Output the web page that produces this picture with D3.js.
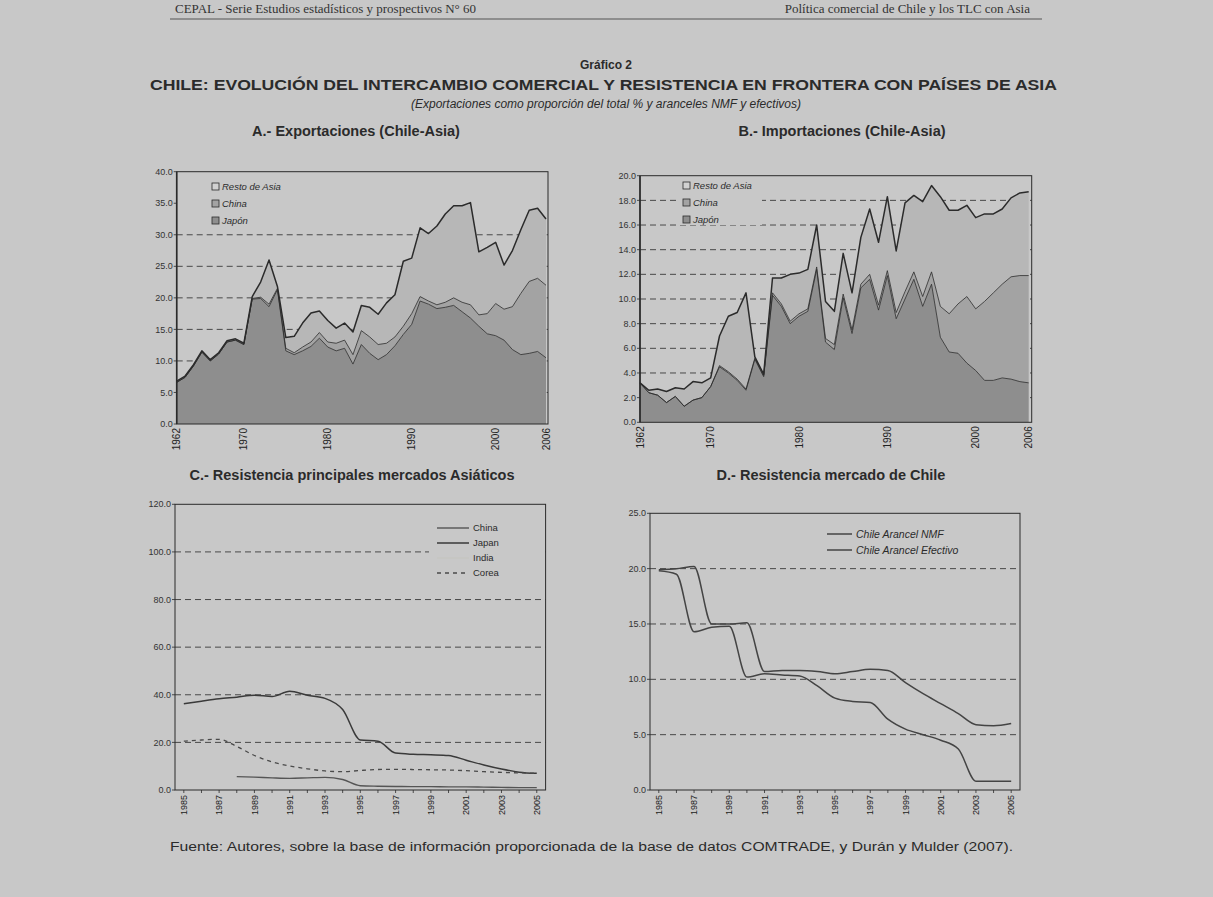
<!DOCTYPE html>
<html><head><meta charset="utf-8">
<script src="https://cdn.jsdelivr.net/npm/d3@7"></script>
<style>
html,body{margin:0;padding:0;background:#c8c8c8;}
svg{display:block;font-family:"Liberation Sans",Arial,sans-serif;}
</style>
</head><body>
<svg id="c" width="1213" height="897"></svg>
<script>
// ---------------- DATA ----------------
const yearsAB = [1962,1963,1964,1965,1966,1967,1968,1969,1970,1971,1972,1973,1974,1975,1976,1977,1978,1979,1980,1981,1982,1983,1984,1985,1986,1987,1988,1989,1990,1991,1992,1993,1994,1995,1996,1997,1998,1999,2000,2001,2002,2003,2004,2005,2006];
const tickYearsAB = [1962,1970,1980,1990,2000,2006];

// A.- Exportaciones (% del total)
const expJapon = [6.6,7.4,9.2,11.4,10.0,11.1,13.0,13.3,12.6,19.8,19.9,18.6,21.3,11.6,11.0,11.6,12.3,13.6,12.2,11.6,12.0,9.5,12.6,11.2,10.2,11.0,12.4,14.2,15.8,19.5,19.0,18.3,18.5,18.8,17.8,16.8,15.5,14.3,14.0,13.3,11.8,11.0,11.2,11.5,10.5];
const expChina = [0,0,0,0,0,0,0,0,0,0.1,0.2,0.4,0.2,0.4,0.3,0.6,0.7,0.9,0.8,1.2,1.3,1.5,2.2,2.6,2.4,1.8,1.4,1.3,1.7,0.7,0.5,0.6,0.8,1.2,1.5,2.1,1.8,3.2,5.1,4.9,6.8,9.7,11.4,11.6,11.5];
const expResto = [0.2,0.2,0.2,0.2,0.2,0.2,0.2,0.2,0.2,0.3,2.4,7.0,0.3,1.7,2.6,3.8,4.6,3.4,3.4,2.4,2.7,3.6,4.0,4.7,4.8,6.4,6.7,10.3,8.8,10.9,10.7,12.5,14.0,14.6,15.3,16.2,10.0,10.5,9.7,7.0,8.9,10.1,11.3,11.1,10.5];
const ticksA = [0,5,10,15,20,25,30,35,40];
const gridA = [5,10,15,20,25,30];

// B.- Importaciones (% del total)
const impJapon = [3.2,2.4,2.2,1.6,2.1,1.3,1.8,2.0,2.9,4.5,4.0,3.4,2.6,5.1,3.7,10.3,9.4,8.0,8.6,9.0,12.4,6.5,5.9,10.1,7.2,10.9,11.6,9.1,11.9,8.4,10.0,11.6,9.4,11.2,6.9,5.7,5.6,4.8,4.2,3.4,3.4,3.6,3.5,3.3,3.2];
const impChina = [0,0,0,0,0,0,0,0,0,0.1,0.1,0.1,0.1,0.1,0.1,0.2,0.2,0.2,0.2,0.2,0.2,0.3,0.4,0.3,0.3,0.3,0.4,0.4,0.4,0.5,0.6,0.6,0.8,1.0,2.5,3.1,4.0,5.4,5.0,6.4,7.1,7.6,8.3,8.6,8.7];
const impResto = [0.0,0.2,0.5,0.9,0.7,1.4,1.5,1.2,0.7,2.4,4.5,5.4,7.8,0.1,0.1,1.2,2.1,3.8,3.3,3.2,3.4,3.0,2.7,3.3,3.0,3.8,5.3,5.1,6.0,5.0,7.2,6.2,7.7,7.0,8.9,8.4,7.6,7.4,7.4,7.1,6.4,6.1,6.4,6.7,6.8];
const ticksB = [0,2,4,6,8,10,12,14,16,18,20];
const gridB = [2,4,6,8,10,12,14,16,18];

// C.- Resistencia principales mercados asiáticos
const yearsCD = [1985,1986,1987,1988,1989,1990,1991,1992,1993,1994,1995,1996,1997,1998,1999,2000,2001,2002,2003,2004,2005];
const tickYearsCD = [1985,1987,1989,1991,1993,1995,1997,1999,2001,2003,2005];
const tarChina = [null,null,null,5.6,5.4,5.1,4.9,5.1,5.3,4.4,1.8,1.6,1.5,1.4,1.4,1.3,1.3,1.2,1.1,1.0,1.0];
const tarJapan = [36.2,37.3,38.3,39.0,39.8,39.3,41.5,39.8,38.5,33.8,21.0,20.5,15.5,15.0,14.8,14.5,12.5,10.5,8.8,7.5,7.0];
const tarCorea = [20.5,21.0,21.3,18.3,14.5,11.8,10.1,8.9,8.0,7.7,8.2,8.6,8.7,8.6,8.5,8.4,8.1,7.7,7.4,7.2,7.0];
const ticksC = [0,20,40,60,80,100,120];
const gridC = [20,40,60,80,100];

// D.- Resistencia mercado de Chile
const chileNMF = [19.9,20.0,20.2,15.0,15.0,15.1,10.7,10.8,10.8,10.7,10.5,10.7,10.9,10.8,9.7,8.7,7.8,6.9,5.9,5.8,6.0];
const chileEfectivo = [19.8,19.5,14.3,14.7,14.8,10.2,10.5,10.4,10.3,9.4,8.3,8.0,7.9,6.4,5.5,5.0,4.5,3.7,0.8,0.8,0.8];
const ticksD = [0,5,10,15,20,25];
const gridD = [5,10,15,20];

// ---------------- DRAW ----------------
const BG = "#c8c8c8", INK = "#2b2b2b";
const fills = {japon:"#8e8e8e", china:"#a3a3a3", resto:"#b7b7b7"};
const svg = d3.select("#c");
svg.append("rect").attr("width",1213).attr("height",897).attr("fill",BG);

// header
svg.append("text").attr("x",175).attr("y",13).attr("font-family","Liberation Serif, serif").attr("font-size",13).attr("fill","#333")
  .text("CEPAL - Serie Estudios estadísticos y prospectivos N° 60");
svg.append("text").attr("x",1030).attr("y",13).attr("text-anchor","end").attr("font-family","Liberation Serif, serif").attr("font-size",13).attr("fill","#333")
  .text("Política comercial de Chile y los TLC con Asia");
svg.append("line").attr("x1",170).attr("x2",1042).attr("y1",19).attr("y2",19).attr("stroke","#555").attr("stroke-width",1);

svg.append("text").attr("x",606).attr("y",69).attr("text-anchor","middle").attr("font-size",12).attr("font-weight","bold").attr("fill",INK).text("Gráfico 2");
svg.append("text").attr("x",150).attr("y",90).attr("font-size",14.5).attr("font-weight","bold").attr("fill",INK)
  .attr("textLength",907).attr("lengthAdjust","spacingAndGlyphs")
  .text("CHILE: EVOLUCIÓN DEL INTERCAMBIO COMERCIAL Y RESISTENCIA EN FRONTERA CON PAÍSES DE ASIA");
svg.append("text").attr("x",606).attr("y",108).attr("text-anchor","middle").attr("font-size",12).attr("font-style","italic").attr("fill",INK)
  .text("(Exportaciones como proporción del total % y aranceles NMF y efectivos)");

function panelTitle(x, y, t){
  svg.append("text").attr("x",x).attr("y",y).attr("text-anchor","middle").attr("font-size",14.5).attr("font-weight","bold").attr("fill",INK).text(t);
}
panelTitle(356,136,"A.- Exportaciones (Chile-Asia)");
panelTitle(842,136,"B.- Importaciones (Chile-Asia)");
panelTitle(352,480,"C.- Resistencia principales mercados Asiáticos");
panelTitle(831,480,"D.- Resistencia mercado de Chile");

svg.append("text").attr("x",170).attr("y",851).attr("font-size",12).attr("fill",INK)
  .attr("textLength",843).attr("lengthAdjust","spacingAndGlyphs")
  .text("Fuente: Autores, sobre la base de información proporcionada de la base de datos COMTRADE, y Durán y Mulder (2007).");

function yAxis(g, y, ticks, x0, fmt){
  g.selectAll(null).data(ticks).join("text")
    .attr("x",x0-4).attr("y",d=>y(d)).attr("dy","0.35em").attr("text-anchor","end")
    .attr("font-size",9).attr("fill","#333").text(fmt);
  g.selectAll(null).data(ticks).join("line")
    .attr("x1",x0-3).attr("x2",x0).attr("y1",d=>y(d)).attr("y2",d=>y(d)).attr("stroke",INK).attr("stroke-width",0.8);
}
function grid(g, y, vals, x0, x1){
  g.selectAll(null).data(vals).join("line")
    .attr("x1",x0).attr("x2",x1).attr("y1",d=>y(d)).attr("y2",d=>y(d))
    .attr("stroke","#3a3a3a").attr("stroke-width",0.9).attr("stroke-dasharray","6,4");
}
function xLabels(g, xs, labels, yb, size){
  g.selectAll(null).data(labels).join("text")
    .attr("transform",d=>`translate(${xs(d)},${yb+4}) rotate(-90)`)
    .attr("dy","0.35em").attr("text-anchor","end").attr("font-size",size).attr("fill","#222").text(d=>d);
}

function stackedPanel(o){
  const g = svg.append("g");
  const x = d3.scaleLinear().domain([yearsAB[0], yearsAB[yearsAB.length-1]]).range([o.x0,o.x1]);
  const y = d3.scaleLinear().domain([0,o.ymax]).range([o.yb,o.yt]);
  grid(g, y, o.grid, o.x0, o.fx1);
  const rows = yearsAB.map((yr,i)=>({year:yr, japon:o.japon[i], china:o.china[i], resto:o.resto[i]}));
  const series = d3.stack().keys(["japon","china","resto"])(rows);
  const area = d3.area().x(d=>x(d.data.year)).y0(d=>y(d[0])).y1(d=>y(d[1]));
  g.selectAll(null).data(series).join("path").attr("d",area).attr("fill",d=>fills[d.key]);
  const line = d3.line().x(d=>x(d.data.year)).y(d=>y(d[1]));
  g.selectAll(null).data(series).join("path").attr("d",line).attr("fill","none")
    .attr("stroke",INK).attr("stroke-width",d=>d.key==="resto"?1.5:0.8).attr("stroke-linejoin","round");
  g.append("rect").attr("x",o.x0).attr("y",o.yt).attr("width",o.fx1-o.x0).attr("height",o.yb-o.yt)
    .attr("fill","none").attr("stroke",INK).attr("stroke-width",1);
  g.append("line").attr("x1",o.x0).attr("x2",o.x0).attr("y1",o.yt).attr("y2",o.yb).attr("stroke",INK).attr("stroke-width",1.6);
  yAxis(g, y, o.ticks, o.x0, d=>d.toFixed(1));
  xLabels(g, x, tickYearsAB, o.yb, 10);
  // legend
  const L = g.append("g");
  L.append("rect").attr("x",o.lx-3).attr("y",o.ly-9).attr("width",82).attr("height",48).attr("fill",BG);
  const items = [["resto","Resto de Asia"],["china","China"],["japon","Japón"]];
  items.forEach((it,i)=>{
    L.append("rect").attr("x",o.lx).attr("y",o.ly+i*17-4).attr("width",7).attr("height",7)
      .attr("fill",it[0]==="resto"?"#d2d2d2":fills[it[0]]).attr("stroke",INK).attr("stroke-width",0.8);
    L.append("text").attr("x",o.lx+10).attr("y",o.ly+i*17).attr("dy","0.35em").attr("font-size",9.5)
      .attr("font-style","italic").attr("fill",INK).text(it[1]);
  });
}

stackedPanel({x0:176.7, x1:546, fx1:548, yt:171.7, yb:424, ymax:40, ticks:ticksA, grid:gridA,
  japon:expJapon, china:expChina, resto:expResto, lx:212, ly:187});
stackedPanel({x0:640, x1:1028.7, fx1:1031.7, yt:175.7, yb:422.3, ymax:20, ticks:ticksB, grid:gridB,
  japon:impJapon, china:impChina, resto:impResto, lx:683, ly:186});

function linePanel(o){
  const g = svg.append("g");
  const x = d3.scalePoint().domain(yearsCD).range([o.x0,o.x1]).padding(0.5);
  const y = d3.scaleLinear().domain([0,o.ymax]).range([o.yb,o.yt]);
  grid(g, y, o.grid, o.x0, o.x1);
  g.append("rect").attr("x",o.x0).attr("y",o.yt).attr("width",o.x1-o.x0).attr("height",o.yb-o.yt)
    .attr("fill","none").attr("stroke",INK).attr("stroke-width",1);
  // legend background
  g.append("rect").attr("x",o.lx-8).attr("y",o.ly-9).attr("width",o.lw).attr("height",o.series.length*o.lsp+6).attr("fill",BG);
  const line = d3.line().defined(d=>d.v!=null).curve(d3.curveMonotoneX).x(d=>x(d.year)).y(d=>y(d.v));
  o.series.forEach((s,i)=>{
    if(s.values){
      g.append("path").attr("d",line(yearsCD.map((yr,k)=>({year:yr, v:s.values[k]}))))
        .attr("fill","none").attr("stroke",s.color).attr("stroke-width",s.w).attr("stroke-dasharray",s.dash||null);
    }
    g.append("line").attr("x1",o.lx).attr("x2",o.lx+o.lsample).attr("y1",o.ly+i*o.lsp).attr("y2",o.ly+i*o.lsp)
      .attr("stroke",s.color).attr("stroke-width",s.w).attr("stroke-dasharray",s.dash||null);
    g.append("text").attr("x",o.lx+o.lsample+4).attr("y",o.ly+i*o.lsp).attr("dy","0.35em")
      .attr("font-size",o.lfs).attr("font-style",o.litalic?"italic":null).attr("fill",INK).text(s.name);
  });
  yAxis(g, y, o.ticks, o.x0, d=>d.toFixed(1));
  g.selectAll(null).data(yearsCD).join("line")
    .attr("x1",d=>x(d)).attr("x2",d=>x(d)).attr("y1",o.yb).attr("y2",o.yb+3).attr("stroke",INK).attr("stroke-width",0.8);
  xLabels(g, x, tickYearsCD, o.yb+1, 9);
}

linePanel({x0:175, x1:545.6, yt:504.3, yb:790, ymax:120, ticks:ticksC, grid:gridC,
  lx:437, ly:528, lsp:15, lsample:32, lw:112, lfs:9.5, litalic:false,
  series:[
    {name:"China", values:tarChina, color:"#555", w:1.4},
    {name:"Japan", values:tarJapan, color:"#3a3a3a", w:1.5},
    {name:"India", values:null, color:"#c4c4c0", w:1.2},
    {name:"Corea", values:tarCorea, color:"#4a4a4a", w:1.3, dash:"4,4"}
  ]});

linePanel({x0:650, x1:1020, yt:513.3, yb:790, ymax:25, ticks:ticksD, grid:gridD,
  lx:827, ly:534, lsp:16, lsample:25, lw:150, lfs:10.5, litalic:true,
  series:[
    {name:"Chile Arancel NMF", values:chileNMF, color:"#444", w:1.5},
    {name:"Chile Arancel Efectivo", values:chileEfectivo, color:"#444", w:1.5}
  ]});
</script>
</body></html>
